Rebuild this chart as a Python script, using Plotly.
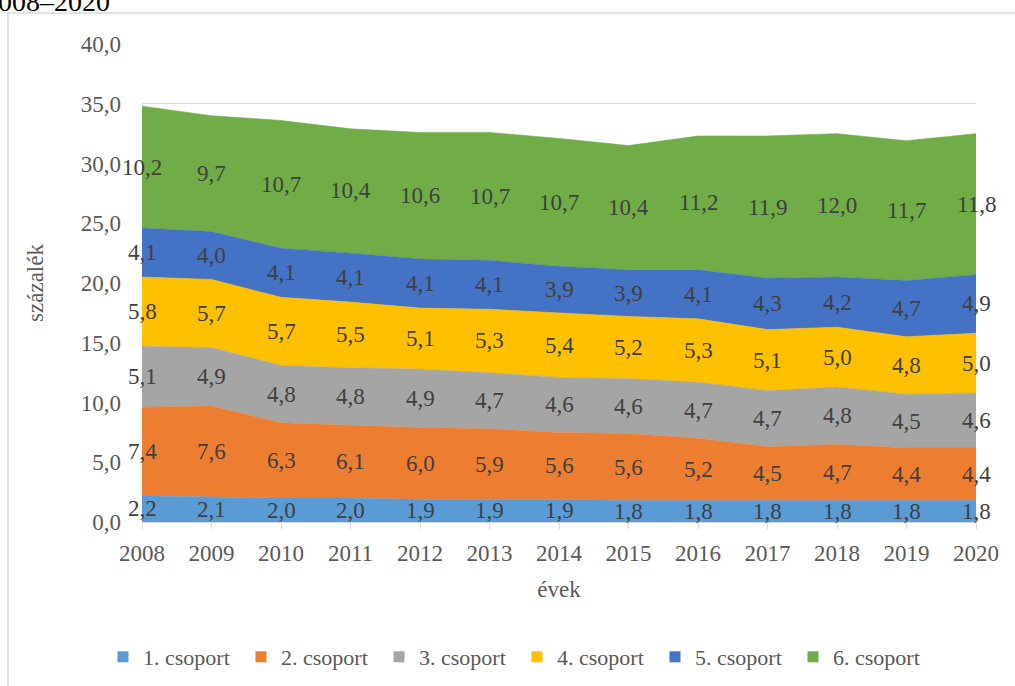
import plotly.graph_objects as go

years = [2008, 2009, 2010, 2011, 2012, 2013, 2014, 2015, 2016, 2017, 2018, 2019, 2020]
g1 = [2.2, 2.1, 2.0, 2.0, 1.9, 1.9, 1.9, 1.8, 1.8, 1.8, 1.8, 1.8, 1.8]
g2 = [7.4, 7.6, 6.3, 6.1, 6.0, 5.9, 5.6, 5.6, 5.2, 4.5, 4.7, 4.4, 4.4]
g3 = [5.1, 4.9, 4.8, 4.8, 4.9, 4.7, 4.6, 4.6, 4.7, 4.7, 4.8, 4.5, 4.6]
g4 = [5.8, 5.7, 5.7, 5.5, 5.1, 5.3, 5.4, 5.2, 5.3, 5.1, 5.0, 4.8, 5.0]
g5 = [4.1, 4.0, 4.1, 4.1, 4.1, 4.1, 3.9, 3.9, 4.1, 4.3, 4.2, 4.7, 4.9]
g6 = [10.2, 9.7, 10.7, 10.4, 10.6, 10.7, 10.7, 10.4, 11.2, 11.9, 12.0, 11.7, 11.8]
names = ["1. csoport", "2. csoport", "3. csoport", "4. csoport", "5. csoport", "6. csoport"]
colors = ["#5B9BD5", "#ED7D31", "#A5A5A5", "#FFC000", "#4472C4", "#70AD47"]
series = [g1, g2, g3, g4, g5, g6]
y_ticks = [0, 5, 10, 15, 20, 25, 30, 35, 40]
y_tick_text = ["0,0", "5,0", "10,0", "15,0", "20,0", "25,0", "30,0", "35,0", "40,0"]

FONT = "Liberation Serif, Times New Roman, serif"

# plot area in pixels
L, R, T, B = 142, 976, 44, 522
W, H = 1015, 686
def px(x):
    return (x - L) / (R - L)
def py(y):
    return (B - y) / (B - T)

fig = go.Figure()
for name, col, s in zip(names, colors, series):
    fig.add_trace(go.Scatter(
        x=years, y=s, name=name, mode="lines", stackgroup="one",
        line=dict(width=0.6, color=col), fillcolor=col, hoverinfo="skip",
        showlegend=False))
# legend entries as small squares
for name, col in zip(names, colors):
    fig.add_trace(go.Scatter(
        x=[None], y=[None], name=name, mode="markers",
        marker=dict(symbol="square", size=11, color=col), showlegend=True))

annotations = []
base = [0.0] * len(years)
for s in series:
    for i, yr in enumerate(years):
        mid = base[i] + s[i] / 2
        annotations.append(dict(
            x=yr, y=mid, xref="x", yref="y", showarrow=False,
            text=f"{s[i]:.1f}".replace(".", ","),
            font=dict(family=FONT, size=23, color="#404040")))
    base = [b + v for b, v in zip(base, s)]

# cut-off title at the top
annotations.append(dict(
    x=px(112), y=py(19), xref="paper", yref="paper", xanchor="right", yanchor="bottom",
    showarrow=False, text="2008–2020",
    font=dict(family=FONT, size=28, color="#000000")))

fig.update_layout(
    width=W, height=H,
    margin=dict(l=L, r=W - R, t=T, b=H - B, autoexpand=False),
    paper_bgcolor="white", plot_bgcolor="white",
    font=dict(family=FONT, size=22, color="#595959"),
    showlegend=True,
    legend=dict(orientation="h", x=px(517), y=py(657), xanchor="center", yanchor="middle",
                font=dict(family=FONT, size=22, color="#595959"),
                entrywidth=93, traceorder="normal", itemclick=False, itemwidth=30),
    annotations=annotations,
    shapes=[dict(type="rect", xref="paper", yref="paper",
                 x0=px(8), x1=px(1030), y0=py(700), y1=py(13),
                 line=dict(color="#d9d9d9", width=1.5), layer="below")],
    xaxis=dict(range=[2008, 2020], tickmode="array", tickvals=years,
               ticktext=[str(y) for y in years],
               showgrid=False, zeroline=False,
               showline=True, linecolor="#d9d9d9", linewidth=1,
               ticks="outside", ticklen=6, tickcolor="#d9d9d9",
               ticklabelstandoff=4,
               tickfont=dict(family=FONT, size=23, color="#595959"),
               title=dict(text="évek", font=dict(family=FONT, size=23, color="#595959"), standoff=16)),
    yaxis=dict(range=[0, 40], tickmode="array", tickvals=y_ticks, ticktext=y_tick_text,
               showgrid=True, gridcolor="#d9d9d9", gridwidth=1, zeroline=False,
               showline=False, ticks="", ticklabelstandoff=20,
               tickfont=dict(family=FONT, size=23, color="#595959"),
               title=dict(text="százalék", font=dict(family=FONT, size=23, color="#595959"), standoff=30)),
)

fig.write_html("out.html", config={"displayModeBar": False},
               post_script="document.body.style.margin='0px';")
